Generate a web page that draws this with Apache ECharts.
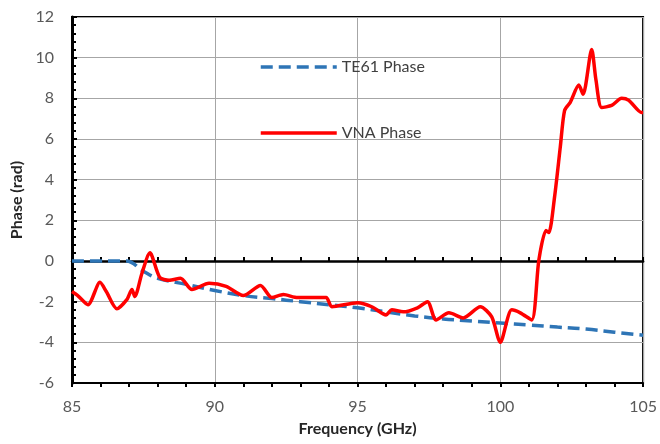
<!DOCTYPE html>
<html>
<head>
<meta charset="utf-8">
<script src="https://cdn.jsdelivr.net/npm/echarts@6/dist/echarts.min.js"></script>
<style>html,body{margin:0;padding:0;background:#fff}#c{width:660px;height:444px}</style>
</head>
<body>
<div id="c"></div>
<script>
var xTickLabels = [85, 90, 95, 100, 105];
var yTickLabels = [-6, -4, -2, 0, 2, 4, 6, 8, 10, 12];

var te61Freq = [85, 86, 86.9, 87.5, 88, 89, 90, 91, 92, 93, 94, 95, 96, 97, 98, 99, 100, 101, 102, 103, 104, 105];
var te61Phase = [0, 0, 0, -0.5, -0.85, -1.15, -1.45, -1.7, -1.85, -2.0, -2.15, -2.3, -2.5, -2.7, -2.85, -2.95, -3.05, -3.15, -3.25, -3.35, -3.5, -3.65];

var vnaFreq = [85.0, 85.2, 85.56, 85.98, 86.2, 86.57, 86.92, 87.1, 87.2, 87.45, 87.73, 88.07, 88.4, 88.8, 89.2, 89.8, 90.4, 91.0, 91.6, 92.0, 92.4, 92.9, 93.9, 94.1, 95.0, 95.5, 96.0, 96.2, 96.6, 97.1, 97.45, 97.75, 98.2, 98.7, 99.3, 99.7, 100.0, 100.4, 100.7, 101.1, 101.35, 101.6, 101.7, 101.9, 102.1, 102.25, 102.45, 102.75, 102.9, 103.2, 103.35, 103.55, 103.9, 104.25, 104.5, 104.95, 105.0];
var vnaPhase = [-1.5, -1.7, -2.15, -1.05, -1.5, -2.35, -1.9, -1.4, -1.75, -0.6, 0.4, -0.8, -0.95, -0.85, -1.4, -1.1, -1.25, -1.7, -1.2, -1.8, -1.65, -1.8, -1.8, -2.25, -2.05, -2.25, -2.65, -2.4, -2.5, -2.3, -2.0, -2.9, -2.55, -2.8, -2.25, -2.75, -4.0, -2.4, -2.55, -2.9, 0.05, 1.5, 1.4, 3.15, 5.6, 7.4, 7.8, 8.65, 8.2, 10.4, 8.9, 7.55, 7.65, 8.0, 7.9, 7.3, 7.3];

function pairs(xs, ys) { return xs.map(function (x, i) { return [x, ys[i]]; }); }

var FONT = 'Lato';
var chart = echarts.init(document.getElementById('c'));
chart.setOption({
  animation: false,
  backgroundColor: '#fff',
  textStyle: { fontFamily: FONT },
  grid: { left: 72, right: 16, top: 17, bottom: 61, show: true, borderColor: '#000', borderWidth: 2, backgroundColor: 'transparent' },
  legend: {
    orient: 'vertical', left: 254, top: 54, itemWidth: 76, itemHeight: 14, itemGap: 50,
    itemStyle: { opacity: 0 },
    lineStyle: { width: 3.5 },
    textStyle: { fontFamily: FONT, fontSize: 16, color: '#404040' },
    data: ['TE61 Phase', 'VNA Phase']
  },
  xAxis: [
    {
      type: 'value', min: 85, max: 105, interval: 5,
      axisLine: { onZero: false, show: true, lineStyle: { color: '#000', width: 2 } },
      axisTick: { show: false },
      splitLine: { show: true, lineStyle: { color: '#a6a6a6', width: 1 } },
      axisLabel: { fontFamily: FONT, fontSize: 16, color: '#595959', margin: 16,
        formatter: function (v) { return xTickLabels.indexOf(v) >= 0 ? String(v) : ''; } },
      name: 'Frequency (GHz)', nameLocation: 'middle', nameGap: 38,
      nameTextStyle: { fontFamily: FONT, fontSize: 16, fontWeight: 'bold', color: '#262626' }
    },
    {
      type: 'value', min: 85, max: 105, interval: 1, position: 'bottom',
      axisLine: { onZero: true, show: true, lineStyle: { color: '#000', width: 2.5 } },
      axisTick: { show: true, inside: true, length: 4, lineStyle: { color: '#000', width: 2 } },
      splitLine: { show: false }, axisLabel: { show: false }
    },
    {
      type: 'value', min: 85, max: 105, interval: 1, position: 'bottom',
      axisLine: { onZero: true, show: false },
      axisTick: { show: true, inside: false, length: 4, lineStyle: { color: '#000', width: 2 } },
      splitLine: { show: false }, axisLabel: { show: false }
    }
  ],
  yAxis: {
    type: 'value', min: -6, max: 12, interval: 2,
    axisLine: { show: true, onZero: false, lineStyle: { color: '#000', width: 3 } },
    axisTick: { show: true, inside: true, length: 5, lineStyle: { color: '#000', width: 2 } },
    minorTick: { show: true, splitNumber: 5, length: 4, lineStyle: { color: '#000', width: 2 } },
    splitLine: { show: true, lineStyle: { color: '#a6a6a6', width: 1 } },
    axisLabel: { fontFamily: FONT, fontSize: 16, color: '#595959', margin: 18,
      formatter: function (v) { return yTickLabels.indexOf(v) >= 0 ? String(v) : ''; } },
    name: 'Phase (rad)', nameLocation: 'middle', nameGap: 46,
    nameTextStyle: { fontFamily: FONT, fontSize: 16, fontWeight: 'bold', color: '#262626' }
  },
  series: [
    {
      name: 'TE61 Phase', type: 'line', xAxisIndex: 0, symbol: 'none', smooth: 0.4,
      data: pairs(te61Freq, te61Phase),
      lineStyle: { color: '#2e75b6', width: 3.5, type: [12, 6] },
      itemStyle: { color: '#2e75b6' }, z: 3
    },
    {
      name: 'VNA Phase', type: 'line', xAxisIndex: 0, symbol: 'none', smooth: 0.25,
      data: pairs(vnaFreq, vnaPhase),
      lineStyle: { color: '#ff0000', width: 3.5 },
      itemStyle: { color: '#ff0000' }, z: 4
    }
  ]
});
</script>
</body>
</html>
